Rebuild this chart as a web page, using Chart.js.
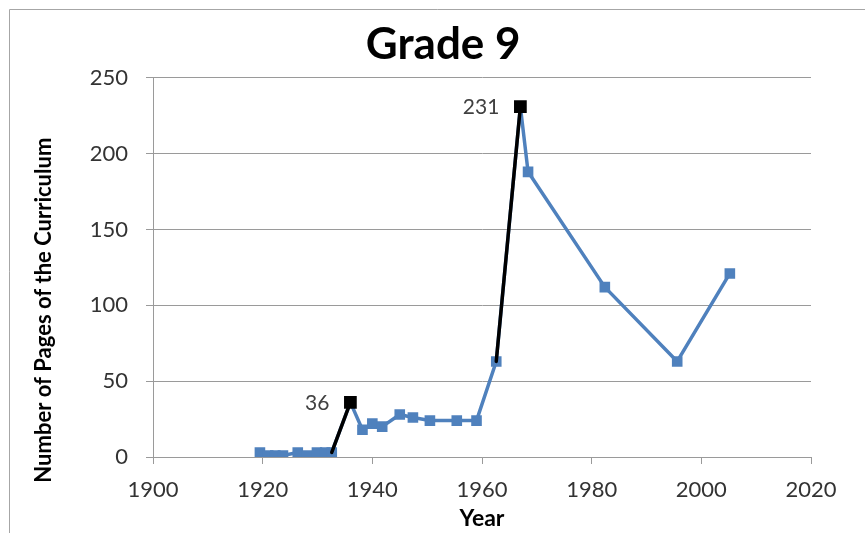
<!DOCTYPE html>
<html>
<head>
<meta charset="utf-8">
<script src="https://cdn.jsdelivr.net/npm/chart.js@4/dist/chart.umd.min.js"></script>
<style>
  html, body { margin: 0; padding: 0; background: #ffffff; }
  #wrap { width: 865px; height: 533px; }
</style>
</head>
<body>
<div id="wrap"><canvas id="c" width="865" height="533"></canvas></div>
<script>
// ---- data ----
const years  = [1919.5, 1921, 1922.3, 1923.7, 1926.4, 1928.1, 1929.9, 1931.4, 1932.6,
                1936, 1938.2, 1940, 1941.8, 1945, 1947.4, 1950.5, 1955.4, 1959,
                1962.6, 1967, 1968.4, 1982.4, 1995.6, 2005.2];
const pages  = [3, 1, 1, 1, 3, 1, 3, 3, 3,
                36, 18, 22, 20, 28, 26, 24, 24, 24,
                63, 231, 188, 112, 63, 121];
const highlightIdx = [9, 19];          // labelled points (36 and 231)
const xTicks = [1900, 1920, 1940, 1960, 1980, 2000, 2020];
const yTicks = [0, 50, 100, 150, 200, 250];

const BLUE = '#4F81BD';
const GRID = '#9a9a9a';
const FONT = 'Lato, "Open Sans", sans-serif';

const mainData = years.map((x, i) => ({ x, y: pages[i] }));
const blackData = years.map((x, i) => {
  const on = highlightIdx.includes(i) || highlightIdx.includes(i + 1);
  return { x, y: on ? pages[i] : null };
});
const blackRadius = years.map((x, i) => highlightIdx.includes(i) ? 9 : 0);

const framePlugin = {
  id: 'frame',
  beforeDraw(chart) {
    const ctx = chart.ctx;
    ctx.save();
    ctx.strokeStyle = '#a6a6a6';
    ctx.lineWidth = 1;
    ctx.beginPath();
    ctx.moveTo(9.5, 540);
    ctx.lineTo(9.5, 9.5);
    ctx.lineTo(870, 9.5);
    ctx.stroke();
    ctx.restore();
  }
};

const labelPlugin = {
  id: 'ptLabels',
  afterDatasetsDraw(chart) {
    const ctx = chart.ctx;
    const meta = chart.getDatasetMeta(0);
    ctx.save();
    ctx.font = '21px ' + FONT;
    ctx.fillStyle = '#404040';
    ctx.textAlign = 'right';
    ctx.textBaseline = 'middle';
    highlightIdx.forEach(i => {
      const p = meta.data[i];
      ctx.fillText(String(pages[i]), p.x - 21, p.y + 1);
    });
    ctx.restore();
  }
};

new Chart(document.getElementById('c'), {
  type: 'line',
  data: {
    datasets: [
      {
        data: mainData,
        borderColor: BLUE,
        backgroundColor: BLUE,
        borderWidth: 3.5,
        borderJoinStyle: 'round',
        borderCapStyle: 'round',
        pointStyle: 'rect',
        pointRadius: 7.5,
        pointBackgroundColor: BLUE,
        pointBorderWidth: 0,
        tension: 0,
        order: 2
      },
      {
        data: blackData,
        borderColor: '#000000',
        backgroundColor: '#000000',
        borderWidth: 3.5,
        borderJoinStyle: 'round',
        borderCapStyle: 'round',
        pointStyle: 'rect',
        pointRadius: blackRadius,
        pointBackgroundColor: '#000000',
        pointBorderWidth: 0,
        spanGaps: false,
        tension: 0,
        order: 1
      }
    ]
  },
  options: {
    responsive: false,
    animation: false,
    devicePixelRatio: 1,
    layout: { padding: { top: 0, right: 0, bottom: 0, left: 0 } },
    plugins: {
      legend: { display: false },
      tooltip: { enabled: false },
      title: {
        display: true,
        text: '  Grade 9',
        color: '#000000',
        font: { family: FONT, size: 44, weight: 'bold' },
        padding: { top: 18, bottom: 7 }
      }
    },
    scales: {
      x: {
        type: 'linear',
        min: xTicks[0],
        max: xTicks[xTicks.length - 1],
        afterBuildTicks: (s) => { s.ticks = xTicks.map(v => ({ value: v })); },
        afterFit: (s) => { s.height = 76; },
        grid: { drawOnChartArea: false, drawTicks: true, tickLength: 7, color: GRID },
        border: { display: true, color: GRID, width: 1 },
        ticks: {
          color: '#333333',
          font: { family: FONT, size: 22 },
          padding: 13,
          maxRotation: 0,
          callback: (v) => String(v)
        },
        title: {
          display: true,
          text: 'Year',
          color: '#000000',
          font: { family: FONT, size: 23, weight: 'bold' },
          padding: { top: 0, bottom: 1 }
        }
      },
      y: {
        min: yTicks[0],
        max: yTicks[yTicks.length - 1],
        afterBuildTicks: (s) => { s.ticks = yTicks.map(v => ({ value: v })); },
        afterFit: (s) => { s.width = 153; },
        grid: { drawOnChartArea: true, drawTicks: true, tickLength: 7, color: GRID },
        border: { display: true, color: GRID, width: 1 },
        ticks: {
          color: '#333333',
          font: { family: FONT, size: 22 },
          padding: 18,
          callback: (v) => String(v)
        },
        title: {
          display: true,
          text: 'Number of Pages of the Curriculum                ',
          color: '#000000',
          font: { family: FONT, size: 22, weight: 'bold' },
          padding: { top: 31, bottom: 0 }
        }
      },
      yPad: {
        position: 'right',
        display: true,
        afterFit: (s) => { s.width = 54; },
        grid: { display: false },
        border: { display: false },
        ticks: { display: false }
      }
    }
  },
  plugins: [framePlugin, labelPlugin]
});
</script>
</body>
</html>
